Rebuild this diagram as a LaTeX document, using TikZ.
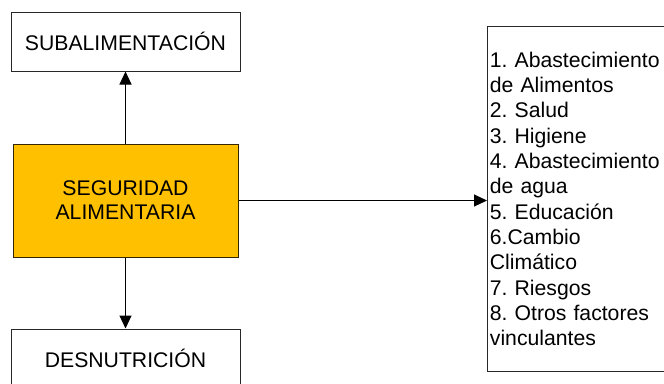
\documentclass[tikz,border=0pt]{standalone}
\usepackage{fontspec}
\setmainfont{Liberation Sans}
\usetikzlibrary{arrows.meta}
\definecolor{segfill}{RGB}{255,192,0}
\definecolor{boxline}{RGB}{40,40,40}
\frenchspacing
\tikzset{
  boxtext/.style={inner sep=0pt,font=\fontsize{15.9}{18}\selectfont},
  plainbox/.style={boxtext,draw=boxline,line width=0.75pt,fill=white},
  segbox/.style={plainbox,draw=black!80!segfill,fill=segfill,align=center},
  link/.style={line width=0.75pt,-{Triangle[length=9.75pt,width=9pt]}}
}

\begin{document}
\begin{tikzpicture}[x=0.75pt,y=0.75pt,yscale=-1,xscale=1]
\useasboundingbox (0,0) rectangle (664,383);
\coordinate (edge) at (663.6,0);

% Boxes
\node [plainbox,minimum width=171.75pt,minimum height=44.25pt] (sub) at (125.5,41.5) {SUBALIMENTACIÓN};
\node [segbox,minimum width=168.75pt,minimum height=84.75pt] (seg) at (125.5,200.5) {SEGURIDAD\\ALIMENTARIA};
\node [plainbox,minimum width=171.75pt,minimum height=44.25pt] (des) at (125.5,358.5) {DESNUTRICIÓN};
% Factors box, open at the page edge
\node [boxtext,anchor=north west,minimum height=258.75pt,
  text width=130pt,align=left,inner xsep=2pt,
  font=\fontsize{15.9}{19}\selectfont] (fac) at (487,26)
  {1. Abastecimiento\\de Alimentos\\2. Salud\\3. Higiene\\4. Abastecimiento\\de agua\\5. Educación\\6.Cambio\\Climático\\7. Riesgos\\8. Otros factores\\vinculantes};
\draw [boxline,line width=0.75pt] (fac.north west -| edge) -- (fac.north west) -- (fac.south west) -- (fac.south west -| edge);

% Connectors
\draw [link] (seg) -- (sub);
\draw [link] (seg) -- (des);
\draw [link] (seg.east) -- (seg.east -| fac.west);

\end{tikzpicture}
\end{document}
